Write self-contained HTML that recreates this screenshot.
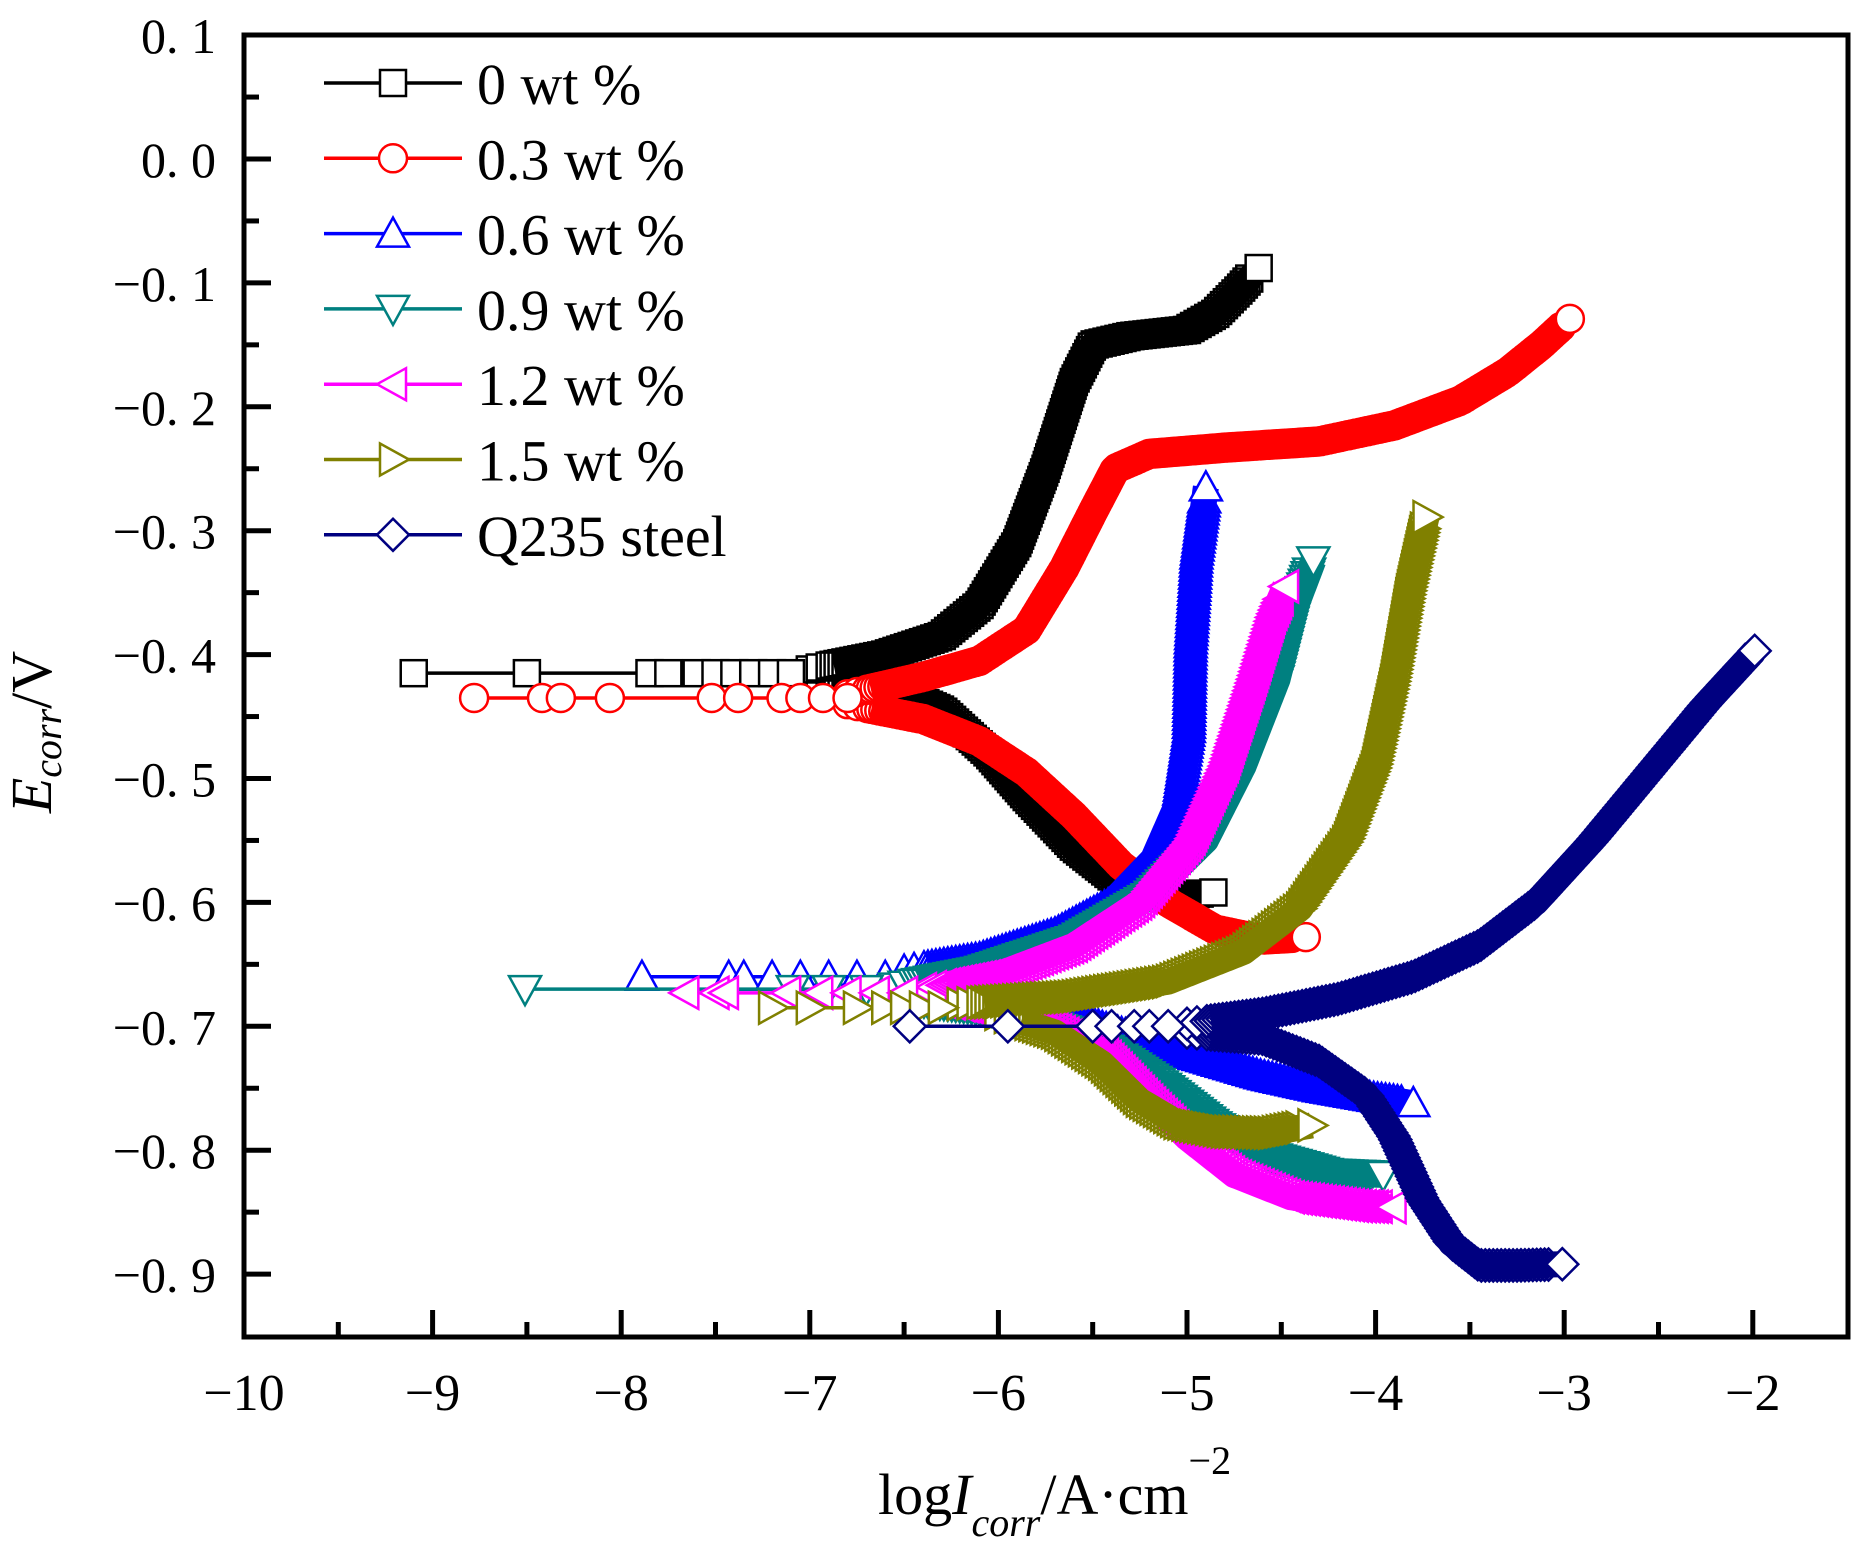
<!DOCTYPE html>
<html><head><meta charset="utf-8">
<style>
html,body{margin:0;padding:0;background:#fff;}
svg{display:block;font-family:"Liberation Serif",serif;}
</style></head>
<body>
<svg id="s" width="1872" height="1557" viewBox="0 0 1872 1557" xmlns="http://www.w3.org/2000/svg">
<rect width="1872" height="1557" fill="#fff"/>
<g id="data"></g>
<g id="axes"></g>
<g id="leg"></g>
<text x="38" y="732" font-size="58" transform="rotate(-90 38 732)" text-anchor="middle" dominant-baseline="middle"><tspan font-style="italic">E</tspan><tspan font-style="italic" font-size="40" dy="14">corr</tspan><tspan dy="-14">/V</tspan></text>
<text x="878" y="1514" font-size="58">log<tspan font-style="italic">I</tspan><tspan font-style="italic" font-size="40" dy="22">corr</tspan><tspan dy="-22">/A·cm</tspan><tspan font-size="40" dy="-40">−2</tspan></text>
</svg>
<script>
var NS="http://www.w3.org/2000/svg";
function X(v){return 244+(v+10)*188.6;}
function Y(e){return 159-e*1239;}
function el(p,tag,a){var e=document.createElementNS(NS,tag);for(var k in a)e.setAttribute(k,a[k]);p.appendChild(e);return e;}
var axes=document.getElementById('axes'),data=document.getElementById('data'),leg=document.getElementById('leg');
el(axes,'rect',{x:244,y:35,width:1604,height:1302,fill:'none',stroke:'#000','stroke-width':5});
for(var i=0;i<=17;i++){var v=-10+i*0.5;var x=X(v);var L=(i%2==0)?27:15;
 if(i>0&&i<17)el(axes,'line',{x1:x,y1:1337,x2:x,y2:1337-L,stroke:'#000','stroke-width':5});
 if(i%2==0){var t=el(axes,'text',{x:x,y:1410,'font-size':52,'text-anchor':'middle'});t.textContent=(v==0?'0':'−'+(-v));}}
for(var j=0;j<=20;j++){var e=0.1-j*0.05;var y=Y(e);var L=(j%2==0)?27:15;
 if(y>36&&y<1336)el(axes,'line',{x1:244,y1:y,x2:244+L,y2:y,stroke:'#000','stroke-width':5});
 if(j%2==0){var val=Math.round(e*10);var s=(val<0?'−':'')+'0. '+Math.abs(val);
 var t=el(axes,'text',{x:216,y:y+18,'font-size':50,'text-anchor':'end'});t.textContent=s;}}
var H=13;
function marker(p,shape,cx,cy,col,fill){var a={stroke:col,'stroke-width':2.5,fill:fill};
 if(shape=='sq'){a.x=cx-H;a.y=cy-H;a.width=2*H;a.height=2*H;return el(p,'rect',a);}
 if(shape=='ci'){a.cx=cx;a.cy=cy;a.r=H+1;return el(p,'circle',a);}
 var pts;
 if(shape=='up')pts=[[cx,cy-H-3],[cx+H+3,cy+H],[cx-H-3,cy+H]];
 if(shape=='dn')pts=[[cx,cy+H+3],[cx+H+3,cy-H],[cx-H-3,cy-H]];
 if(shape=='lf')pts=[[cx-H-3,cy],[cx+H,cy-H-3],[cx+H,cy+H+3]];
 if(shape=='rt')pts=[[cx+H+3,cy],[cx-H,cy-H-3],[cx-H,cy+H+3]];
 if(shape=='di')pts=[[cx,cy-H-3],[cx+H+3,cy],[cx,cy+H+3],[cx-H-3,cy]];
 a.points=pts.map(function(q){return q.join(',')}).join(' ');return el(p,'polygon',a);}
function resample(pts,step){var out=[];for(var i=0;i<pts.length-1;i++){var a=pts[i],b=pts[i+1];var d=Math.hypot(b[0]-a[0],b[1]-a[1]);var n=Math.max(1,Math.round(d/step));for(var k=0;k<n;k++)out.push([a[0]+(b[0]-a[0])*k/n,a[1]+(b[1]-a[1])*k/n]);}out.push(pts[pts.length-1]);return out;}
var S=[
{c:'#000000',m:'sq',E:-0.415,sp:[-9.1,-8.5,-7.85,-7.75,-7.6,-7.5,-7.4,-7.3,-7.2,-7.1],
 an:[[-7.0,-0.412],[-6.6,-0.4],[-6.3,-0.385],[-6.1,-0.36],[-5.9,-0.31],[-5.75,-0.25],[-5.6,-0.18],[-5.5,-0.15],[-5.3,-0.143],[-5.0,-0.138],[-4.85,-0.125],[-4.72,-0.105],[-4.62,-0.088]],
 ca:[[-7.0,-0.418],[-6.6,-0.425],[-6.3,-0.445],[-6.05,-0.48],[-5.85,-0.515],[-5.6,-0.555],[-5.35,-0.585],[-5.1,-0.595],[-4.86,-0.592]]},
{c:'#ff0000',m:'ci',E:-0.435,sp:[-8.78,-8.42,-8.32,-8.06,-7.52,-7.38,-7.15,-7.05,-6.93,-6.8],
 an:[[-6.8,-0.432],[-6.4,-0.418],[-6.1,-0.405],[-5.85,-0.38],[-5.65,-0.33],[-5.5,-0.285],[-5.38,-0.25],[-5.2,-0.238],[-4.8,-0.233],[-4.3,-0.228],[-3.9,-0.215],[-3.55,-0.195],[-3.3,-0.172],[-3.12,-0.15],[-2.97,-0.129]],
 ca:[[-6.8,-0.44],[-6.4,-0.452],[-6.1,-0.47],[-5.85,-0.495],[-5.6,-0.53],[-5.35,-0.57],[-5.1,-0.6],[-4.85,-0.622],[-4.6,-0.63],[-4.37,-0.628]]},
{c:'#0000ff',m:'up',E:-0.66,sp:[-7.89,-7.43,-7.35,-7.2,-7.05,-6.9,-6.75,-6.6],
 an:[[-6.5,-0.655],[-6.1,-0.645],[-5.7,-0.625],[-5.4,-0.6],[-5.18,-0.565],[-5.05,-0.52],[-4.99,-0.46],[-4.98,-0.39],[-4.95,-0.32],[-4.9,-0.265]],
 ca:[[-6.5,-0.665],[-6.0,-0.678],[-5.5,-0.698],[-5.0,-0.722],[-4.6,-0.74],[-4.3,-0.75],[-4.0,-0.758],[-3.8,-0.762]]},
{c:'#008080',m:'dn',E:-0.67,sp:[-8.51,-7.09,-6.9,-6.7],
 an:[[-6.55,-0.668],[-6.1,-0.655],[-5.6,-0.63],[-5.2,-0.595],[-4.9,-0.55],[-4.7,-0.49],[-4.52,-0.42],[-4.42,-0.36],[-4.33,-0.324]],
 ca:[[-6.5,-0.678],[-5.9,-0.69],[-5.5,-0.71],[-5.15,-0.745],[-4.85,-0.78],[-4.55,-0.805],[-4.25,-0.818],[-3.96,-0.82]]},
{c:'#ff00ff',m:'lf',E:-0.673,sp:[-7.66,-7.5,-7.45,-7.12,-6.95,-6.8,-6.65,-6.5],
 an:[[-6.4,-0.67],[-6.0,-0.658],[-5.6,-0.635],[-5.25,-0.6],[-4.98,-0.55],[-4.8,-0.49],[-4.65,-0.42],[-4.55,-0.37],[-4.48,-0.345]],
 ca:[[-6.3,-0.68],[-5.8,-0.695],[-5.45,-0.72],[-5.2,-0.76],[-5.0,-0.79],[-4.75,-0.82],[-4.45,-0.838],[-4.1,-0.845],[-3.91,-0.846]]},
{c:'#808000',m:'rt',E:-0.685,sp:[-7.2,-7.0,-6.75,-6.6,-6.5,-6.4,-6.3],
 an:[[-6.2,-0.682],[-5.6,-0.676],[-5.1,-0.664],[-4.7,-0.64],[-4.4,-0.605],[-4.15,-0.55],[-4.0,-0.49],[-3.9,-0.42],[-3.82,-0.35],[-3.73,-0.289]],
 ca:[[-6.0,-0.69],[-5.7,-0.705],[-5.45,-0.73],[-5.25,-0.76],[-5.05,-0.778],[-4.8,-0.785],[-4.55,-0.786],[-4.34,-0.78]]},
{c:'#000080',m:'di',E:-0.70,sp:[-6.47,-5.95,-5.5,-5.4,-5.28,-5.2,-5.1],
 an:[[-5.0,-0.698],[-4.6,-0.69],[-4.2,-0.678],[-3.8,-0.66],[-3.45,-0.635],[-3.15,-0.6],[-2.85,-0.55],[-2.55,-0.495],[-2.25,-0.44],[-1.99,-0.397]],
 ca:[[-5.0,-0.705],[-4.6,-0.71],[-4.3,-0.728],[-4.05,-0.755],[-3.9,-0.79],[-3.75,-0.84],[-3.6,-0.875],[-3.45,-0.893],[-3.25,-0.893],[-3.01,-0.892]]}
];
S.forEach(function(s){
 var g=el(data,'g',{});
 var spx=s.sp.map(function(v){return [X(v),Y(s.E)];});
 var st=[X(s.an[0][0]),Y(s.an[0][1])];
 el(g,'polyline',{points:spx.concat([st]).map(function(q){return q.join(',')}).join(' '),fill:'none',stroke:s.c,'stroke-width':3.5});
 [s.ca,s.an].forEach(function(br){
  var pts=br.map(function(q){return [X(q[0]),Y(q[1])];});
  var str=pts.map(function(q){return q.join(',')}).join(' ');
  el(g,'polyline',{points:str,fill:'none',stroke:s.c,'stroke-width':3});
  var rs=resample(pts,2);
  for(var k=0;k<Math.min(15,rs.length);k+=5)marker(g,s.m,rs[k][0],rs[k][1],s.c,'#fff');
  el(g,'polyline',{points:rs.slice(12).map(function(q){return q.join(',')}).join(' '),fill:'none',stroke:s.c,'stroke-width':26,'stroke-linejoin':'round'});
  for(var k=12;k<rs.length-6;k+=2)marker(g,s.m,rs[k][0],rs[k][1],s.c,'none');
  var e=pts[pts.length-1];marker(g,s.m,e[0],e[1],s.c,'#fff');
 });
 spx.forEach(function(q){marker(g,s.m,q[0],q[1],s.c,'#fff');});
});
var names=['0 wt %','0.3 wt %','0.6 wt %','0.9 wt %','1.2 wt %','1.5 wt %','Q235 steel'];
S.forEach(function(s,i){var y=83+i*75.3;
 el(leg,'line',{x1:324,y1:y,x2:462,y2:y,stroke:s.c,'stroke-width':3.5});
 marker(leg,s.m,393,y,s.c,'#fff');
 var t=el(leg,'text',{x:477,y:y+21,'font-size':58});t.textContent=names[i];});
</script>
</body></html>
